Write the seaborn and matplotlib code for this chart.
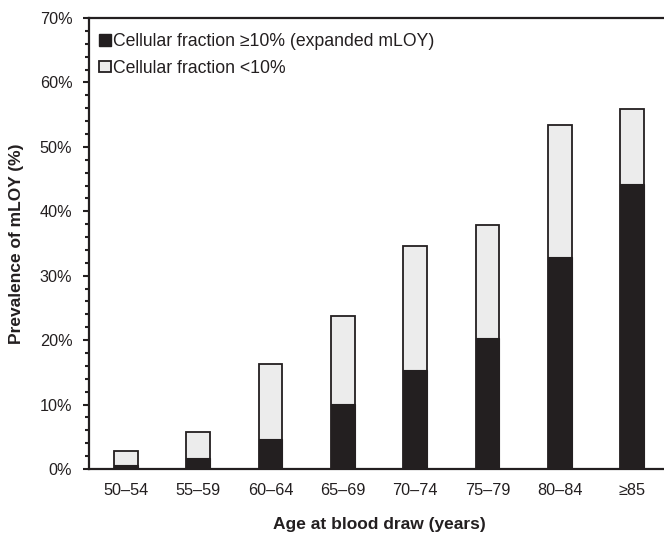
import matplotlib
matplotlib.use("Agg")
import matplotlib.pyplot as plt
import seaborn as sns
import pandas as pd
from matplotlib.patches import Patch
from matplotlib.ticker import MultipleLocator, FuncFormatter

age_groups = ["50–54", "55–59", "60–64", "65–69", "70–74", "75–79", "80–84", "≥85"]
expanded = [0.6, 1.7, 4.7, 10.1, 15.4, 20.3, 32.9, 44.2]
total = [2.8, 5.7, 16.3, 23.8, 34.6, 37.9, 53.4, 55.9]
legend_labels = ["Cellular fraction ≥10% (expanded mLOY)", "Cellular fraction <10%"]

df = pd.DataFrame({"age": age_groups, "expanded": expanded, "total": total})

sns.set_theme(style="white")
plt.rcParams["font.family"] = ["Liberation Sans", "DejaVu Sans"]

dark = "#231f20"
light = "#ececec"

fig = plt.figure(figsize=(6.64, 5.35), dpi=100)
ax = fig.add_axes([89 / 664, 1 - 469 / 535, (669 - 89) / 664, (469 - 18) / 535])

sns.barplot(data=df, x="age", y="total", color=light, edgecolor=dark,
            linewidth=1.3, width=0.33, saturation=1, ax=ax)
sns.barplot(data=df, x="age", y="expanded", color=dark, edgecolor=dark,
            linewidth=0.8, width=0.33, saturation=1, ax=ax)

ax.set_xlim(-0.51, 7.51)
ax.set_ylim(0, 70)
ax.yaxis.set_major_locator(MultipleLocator(10))
ax.yaxis.set_minor_locator(MultipleLocator(2))
ax.yaxis.set_major_formatter(FuncFormatter(lambda v, p: f"{int(round(v))}%"))
ax.tick_params(axis="y", which="major", left=True, length=4, width=1.5,
               color=dark, pad=8, labelsize=11.7, labelcolor="#231f20")
ax.tick_params(axis="y", which="minor", left=True, length=3, width=1.5, color=dark)
ax.tick_params(axis="x", length=0, pad=10, labelsize=11.7, labelcolor="#231f20")

for s in ["left", "bottom", "top"]:
    ax.spines[s].set_visible(True)
    ax.spines[s].set_color(dark)
    ax.spines[s].set_linewidth(1.6)
ax.spines["right"].set_visible(False)

ax.set_xlabel("Age at blood draw (years)", fontsize=12.5, fontweight="bold",
              color=dark, labelpad=14)
ax.set_ylabel("Prevalence of mLOY (%)", fontsize=12.5, fontweight="bold",
              color=dark, labelpad=11)

handles = [Patch(facecolor=dark, edgecolor=dark, linewidth=1),
           Patch(facecolor=light, edgecolor=dark, linewidth=1.3)]
leg = ax.legend(handles, legend_labels, loc="upper left", frameon=False,
                fontsize=12.7, handlelength=0.65, handleheight=0.65,
                handletextpad=0.15, labelspacing=0.55,
                bbox_to_anchor=(-0.008, 1.0), borderaxespad=0.45)
for t in leg.get_texts():
    t.set_color(dark)

fig.savefig("out.png", dpi=100)
